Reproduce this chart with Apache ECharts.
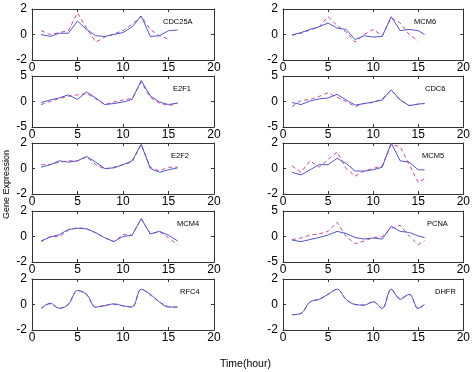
<!DOCTYPE html>
<html><head><meta charset="utf-8">
<script src="https://cdn.jsdelivr.net/npm/echarts@6/dist/echarts.min.js"></script>
<style>html,body{margin:0;padding:0;background:#fff}#c{width:473px;height:372px}</style>
</head><body><div id="c"></div>
<script>
const timeL = [1,2,3,4,5,6,7,8,9,10,11,12,13,14,15,16];
const timeR = [1,2,3,4,5,6,7,8,9,10,11,12,13,14,15,15.7];
const xTicks = [0,5,10,15,20];
const genes = ['CDC25A','MCM6','E2F1','CDC6','E2F2','MCM5','MCM4','PCNA','RFC4','DHFR'];
const yLimits = [2,2,5,5,2,2,2,5,2,2];
const CDC25A_s = [0.0,-0.15,0.1,0.1,1.05,0.4,-0.1,-0.15,0.0,0.15,0.6,1.45,-0.15,-0.1,0.3,0.35];
const CDC25A_d = [0.3,0.0,0.15,0.3,1.7,0.5,-0.6,-0.2,0.05,0.3,0.8,1.45,0.4,-0.1,-0.35,null];
const MCM6_s = [-0.05,0.15,0.4,0.6,0.9,0.5,0.4,-0.4,-0.1,-0.2,-0.15,1.4,0.3,0.4,0.3,0.0];
const MCM6_d = [-0.05,0.1,0.35,0.6,1.4,0.7,0.2,-0.6,0.0,0.4,-0.1,1.3,0.9,0.0,-0.5,null];
const E2F1_s = [-0.2,0.3,0.7,1.3,0.4,1.9,0.7,-0.6,-0.4,-0.1,0.4,4.1,1.1,-0.1,-0.6,-0.3];
const E2F1_d = [-0.6,0.0,0.6,1.0,1.3,1.6,0.5,-0.6,-0.1,0.3,0.6,3.8,0.8,-0.3,-0.8,-0.4];
const CDC6_s = [-0.2,-0.6,0.1,0.5,0.7,1.4,0.3,-0.7,-0.4,-0.1,0.3,2.3,0.3,-0.8,-0.5,-0.4];
const CDC6_d = [-1.0,0.2,0.4,1.0,1.7,0.8,0.0,-1.0,-0.4,-0.2,0.5,2.2,0.3,-0.8,-0.5,-0.4];
const E2F2_s = [0.1,0.3,0.6,0.5,0.6,0.95,0.5,0.0,0.05,0.3,0.6,1.9,0.0,-0.3,-0.1,0.05];
const E2F2_d = [0.3,0.3,0.5,0.6,0.6,0.9,0.3,-0.05,0.1,0.3,0.5,1.9,0.1,-0.2,0.1,0.1];
const MCM5_s = [-0.3,-0.5,-0.1,0.3,0.3,0.8,0.4,-0.2,-0.2,-0.1,0.1,2.0,0.6,0.5,-0.1,-0.1];
const MCM5_d = [0.2,-0.3,0.6,0.1,0.7,1.3,0.0,-0.6,-0.2,0.0,0.2,1.9,1.7,0.3,-1.1,-0.8];
const MCM4_s = [-0.35,-0.05,0.15,0.55,0.65,0.6,0.3,-0.1,-0.4,0.0,0.1,1.4,0.2,0.4,0.1,-0.35];
const MCM4_d = [-0.4,0.0,0.0,0.5,0.7,0.6,0.3,-0.1,-0.4,0.15,0.1,1.4,0.2,0.4,-0.1,-0.65];
const PCNA_s = [-0.7,-1.0,-0.6,-0.2,0.3,1.0,0.6,-0.2,-0.5,-0.3,-0.5,2.0,1.0,0.8,0.1,-0.2];
const PCNA_d = [-0.6,-0.3,0.3,0.5,1.0,2.8,0.0,-1.4,-0.9,-0.2,0.0,1.6,2.2,0.1,-1.6,-0.8];
const RFC4_s = [-0.3,0.1,-0.3,0.0,1.1,0.8,-0.2,-0.1,0.05,-0.1,-0.2,1.2,0.8,0.2,-0.2,-0.2];
const RFC4_d = [-0.3,0.05,-0.3,0.05,1.1,0.75,-0.2,-0.05,0.0,-0.1,-0.2,1.2,0.75,0.2,-0.15,-0.2];
const DHFR_s = [-0.8,-0.7,0.2,0.4,0.8,1.2,0.4,0.0,-0.05,0.2,-0.3,1.2,0.4,0.8,-0.3,0.0];
const DHFR_d = [-0.8,-0.7,0.2,0.4,0.8,1.2,0.4,0.0,-0.05,0.25,-0.35,1.2,0.5,0.8,-0.35,0.05];
const solidData = [CDC25A_s,MCM6_s,E2F1_s,CDC6_s,E2F2_s,MCM5_s,MCM4_s,PCNA_s,RFC4_s,DHFR_s];
const dashData = [CDC25A_d,MCM6_d,E2F1_d,CDC6_d,E2F2_d,MCM5_d,MCM4_d,PCNA_d,RFC4_d,DHFR_d];
const smoothPanels = ['RFC4','DHFR'];

// layout
const colLeft = [32, 283], colWidth = 182;
const rowTop = [9, 76, 143, 211, 279], rowH = 51;
const nameLeft = [163,414,173,425,171,422,177,427,180,435];

const chart = echarts.init(document.getElementById('c'));
const grid=[], xAxis=[], yAxis=[], series=[], graphic=[];
const lineCol = '#333';
const font = 'Liberation Sans, Arial, sans-serif';
genes.forEach((g,i)=>{
  const col = i%2, row = Math.floor(i/2);
  const lim = yLimits[i];
  grid.push({left:colLeft[col], top:rowTop[row], width:colWidth, height:rowH});
  const t = col===0 ? timeL : timeR;
  xAxis.push({gridIndex:i, type:'value', min:xTicks[0], max:xTicks[xTicks.length-1], interval:5, position:'bottom',
    axisLine:{onZero:false, lineStyle:{color:lineCol}}, axisTick:{inside:true, length:3, lineStyle:{color:lineCol}},
    axisLabel:{margin:2, fontSize:12, color:'#000', fontFamily:font}, splitLine:{show:false}});
  xAxis.push({gridIndex:i, type:'value', min:xTicks[0], max:xTicks[xTicks.length-1], interval:5, position:'top',
    axisLine:{onZero:false, lineStyle:{color:lineCol}}, axisTick:{inside:true, length:3, lineStyle:{color:lineCol}},
    axisLabel:{show:false}, splitLine:{show:false}});
  yAxis.push({gridIndex:i, type:'value', min:-lim, max:lim, interval:lim, position:'left',
    axisLine:{show:true, onZero:false, lineStyle:{color:lineCol}}, axisTick:{show:true, inside:true, length:3, lineStyle:{color:lineCol}},
    axisLabel:{margin:5, fontSize:12, color:'#000', fontFamily:font}, splitLine:{show:false}});
  yAxis.push({gridIndex:i, type:'value', min:-lim, max:lim, interval:lim, position:'right',
    axisLine:{show:true, onZero:false, lineStyle:{color:lineCol}}, axisTick:{show:true, inside:true, length:3, lineStyle:{color:lineCol}},
    axisLabel:{show:false}, splitLine:{show:false}});
  const sm = smoothPanels.includes(g) ? 0.35 : false;
  series.push({type:'line', xAxisIndex:2*i, yAxisIndex:2*i, data:t.map((x,k)=>[x,dashData[i][k]]),
    showSymbol:false, symbol:'none', smooth:sm, lineStyle:{color:'#c24aa6', width:1, type:[4,3]}, silent:true, z:2});
  series.push({type:'line', xAxisIndex:2*i, yAxisIndex:2*i, data:t.map((x,k)=>[x,solidData[i][k]]),
    showSymbol:false, symbol:'none', smooth:sm, lineStyle:{color:'#5454c4', width:1}, silent:true, z:3});
  graphic.push({type:'text', left:nameLeft[i], top:rowTop[row]+13-4, style:{text:g, fontSize:7.5, fill:'#000', font:'7.5px '+font}});
});
graphic.push({type:'text', left:2, top:150, rotation:Math.PI/2, style:{text:'Gene Expression', fill:'#000', font:'9px '+font}});
graphic.push({type:'text', left:220, top:359, style:{text:'Time(hour)', fill:'#000', font:'10.5px '+font}});
chart.setOption({animation:false, grid, xAxis, yAxis, series, graphic});
</script></body></html>
